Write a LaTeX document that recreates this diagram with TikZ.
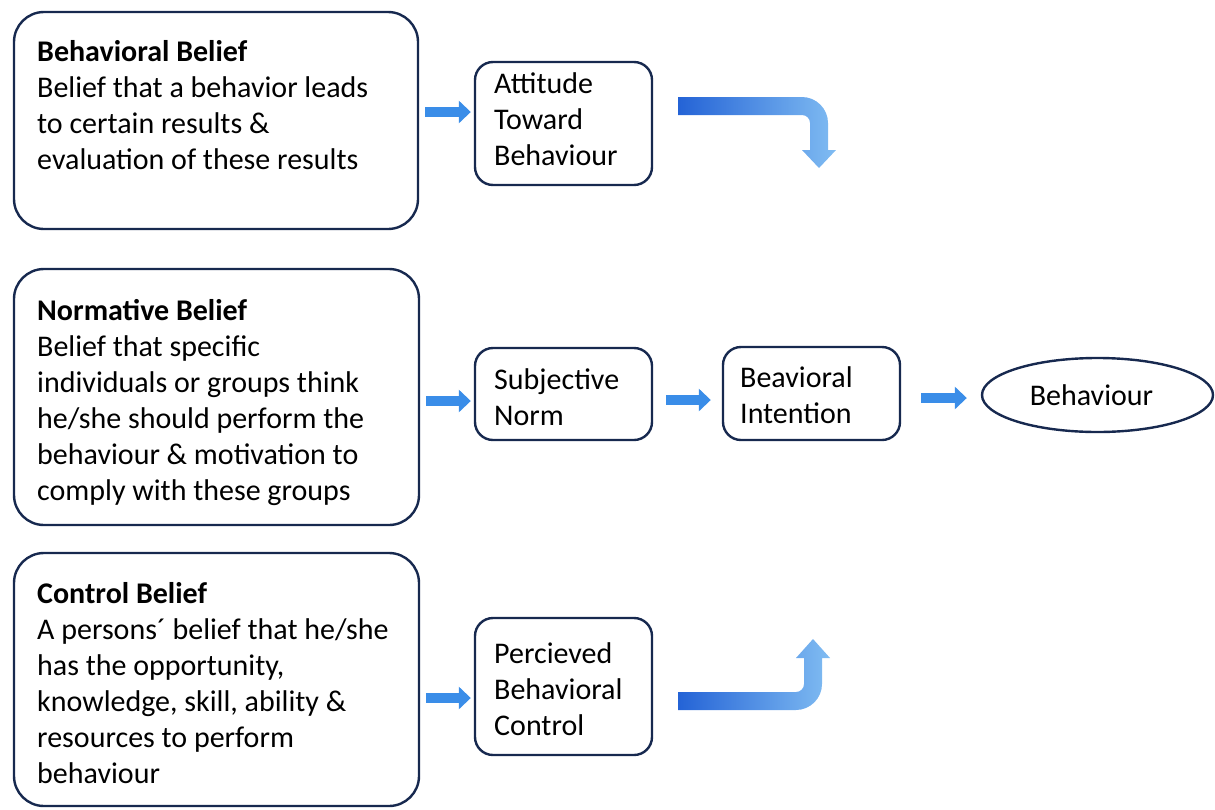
\documentclass[tikz,border=0pt]{standalone}
\usepackage{fontspec}
\setmainfont{Carlito}
\usetikzlibrary{arrows.meta,shapes.geometric,calc}

\definecolor{edge}{HTML}{17294F}
\definecolor{flowblue}{HTML}{3A8DE8}
\definecolor{benddark}{HTML}{2463D6}
\definecolor{bendlight}{HTML}{80BCF2}

\tikzset{
  bigbox/.style={draw=edge, line width=2.4pt, rounded corners=30pt, inner sep=0pt},
  smallbox/.style={draw=edge, line width=2.4pt, rounded corners=18pt, inner sep=0pt,
                   minimum width=177pt},
  oval/.style={draw=edge, line width=2.4pt, ellipse, inner sep=0pt},
  txt/.style={anchor=north west, align=left, inner sep=0pt,
              font=\fontsize{30}{36}\selectfont},
  flow/.style={draw=flowblue, line width=10pt,
               -{Triangle[width=22pt,length=12pt]}},
  bentband/.style={left color=benddark, right color=bendlight}
}
\newcommand{\topline}{\rule{0pt}{24pt}}

\begin{document}
\begin{tikzpicture}[x=1pt,y=-1pt]
\useasboundingbox (0,0) rectangle (1215,809);

% belief boxes on the left
\node[bigbox, minimum width=404pt, minimum height=217pt] (bb) at (216,120.5) {};
\node[bigbox, minimum width=405pt, minimum height=256pt] (nb) at (216.5,397) {};
\node[bigbox, minimum width=405pt, minimum height=253pt] (cb) at (216.5,679.5) {};

\node[txt] (bbt) at (37,37) {\topline\textbf{Behavioral Belief}\\
  Belief that a behavior leads\\ to certain results \&\\ evaluation of these results};
\node[txt] (nbt) at (37,296) {\topline\textbf{Normative Belief}\\
  Belief that specific\\ individuals or groups think\\ he/she should perform the\\
  behaviour \& motivation to\\ comply with these groups};
\node[txt] (cbt) at (37,579) {\topline\textbf{Control Belief}\\
  A persons´ belief that he/she\\ has the opportunity,\\ knowledge, skill, ability \&\\
  resources to perform\\ behaviour};

% constructs in the middle
\node[smallbox, minimum height=123pt] (att) at (563.5,123.5) {};
\node[smallbox, minimum height=92pt]  (sn)  at (563.5,394) {};
\node[smallbox, minimum height=93pt]  (bi)  at (811.5,393.5) {};
\node[smallbox, minimum height=137pt] (pbc) at (563.5,686.5) {};
\node[oval, minimum width=231pt, minimum height=74pt, font=\fontsize{30}{36}\selectfont]
  (beh) at (1097.5,395) {\hspace*{-12pt}Behaviour};

\node[txt] (attt) at (494,69)  {\topline Attitude\\ Toward\\ Behaviour};
\node[txt] (snt)  at (494,365) {\topline Subjective\\ Norm};
\node[txt] (bit)  at (740,363) {\topline Beavioral\\ Intention};
\node[txt] (pbct) at (494,639) {\topline Percieved\\ Behavioral\\ Control};

% straight connectors
\draw[flow, shorten <=6pt, shorten >=3pt]
  ([yshift=8.5pt]bb.east) -- ([yshift=8.5pt]bb.east -| att.west);
\draw[flow, shorten <=6pt, shorten >=3pt]
  ([yshift=-4pt]nb.east) -- ([yshift=-4pt]nb.east -| sn.west);
\draw[flow, shorten <=13pt, shorten >=11pt]
  ([yshift=-6pt]sn.east) -- ([yshift=-6pt]sn.east -| bi.west);
\draw[flow, shorten <=20pt, shorten >=14pt]
  ([yshift=-4.5pt]bi.east) -- ([yshift=-4.5pt]bi.east -| beh.west);
\draw[flow, shorten <=6pt, shorten >=3pt]
  ([yshift=-18.5pt]cb.east) -- ([yshift=-18.5pt]cb.east -| pbc.west);

% bent arrows leading towards the intention
\shade[bentband] (678,97) -- (802,97) .. controls (816.3,97) and (828,108.7) .. (828,123)
  -- (828,150) -- (836,150) -- (819,168) -- (802,150) -- (810,150) -- (810,123)
  .. controls (810,118.6) and (806.4,115) .. (802,115) -- (678,115) -- cycle;
\shade[bentband] (678,692) -- (796,692) .. controls (800.4,692) and (804,688.4) .. (804,684)
  -- (804,658) -- (796,658) -- (813,639) -- (830,658) -- (822,658) -- (822,684)
  .. controls (822,698.3) and (810.3,710) .. (796,710) -- (678,710) -- cycle;
\end{tikzpicture}
\end{document}
